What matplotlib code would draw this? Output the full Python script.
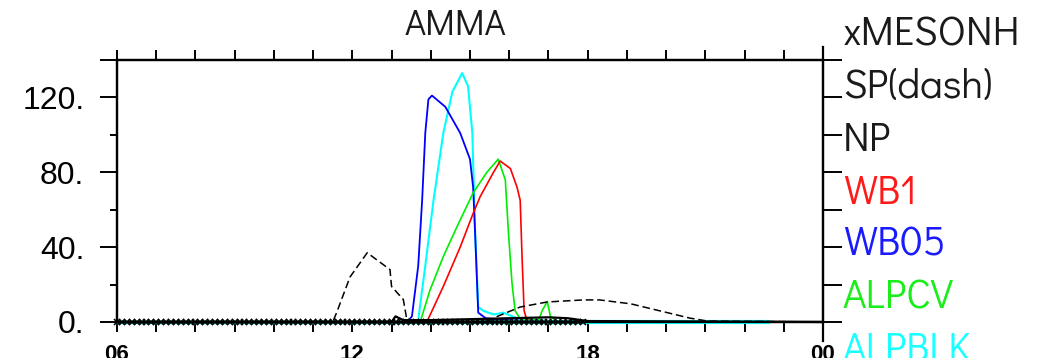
import numpy as np
import matplotlib.pyplot as plt
from matplotlib.ticker import FixedLocator

plt.rcParams['font.family'] = ['Liberation Sans', 'DejaVu Sans']
thin_font = ['Didact Gothic', 'Questrial', 'Liberation Sans']

# hours (06 -> 24) and values
t_wb05 = [6, 13.4, 13.52, 13.68, 13.78, 13.86, 13.94, 14.03, 14.37, 14.75, 15.0, 15.08, 15.13, 15.18, 15.21, 15.4, 16.0, 17.0, 24]
y_wb05 = [0, 0, 3, 30, 65, 101, 119, 121, 115, 101, 87, 72, 48, 21, 5, 2, 1, 0, 0]

t_blk = [6, 13.6, 13.68, 13.86, 14.07, 14.32, 14.55, 14.8, 14.95, 15.06, 15.13, 15.21, 15.34, 15.6, 15.85, 16.2, 17.0, 22.6]
y_blk = [0, 0, 1, 30, 65, 101, 123, 133, 126, 101, 48, 8, 6, 4, 5, 2, 0.5, 0]

t_cv = [6, 13.73, 13.98, 14.32, 14.67, 15.08, 15.43, 15.72, 15.9, 15.98, 16.07, 16.15, 16.3, 16.75, 16.84, 16.97, 17.05, 17.2, 24]
y_cv = [0, 0, 17, 35, 51, 69, 80, 87, 76, 48, 21, 6, 1, 1, 6, 11, 3, 0.5, 0]

t_wb1 = [6, 13.8, 13.9, 14.32, 14.75, 15.08, 15.26, 15.6, 15.77, 16.03, 16.2, 16.28, 16.33, 16.38, 16.45, 17.0, 24]
y_wb1 = [0, 0, 0, 19, 40, 58, 67, 80, 86, 82, 72, 65, 33, 6, 1, 0, 0]

t_sp = [6, 11.5, 11.6, 11.94, 12.38, 12.96, 13.0, 13.3, 13.4, 15.4, 15.7, 16.28, 16.97, 17.9, 18.3, 19.1, 19.85, 20.6, 21.05, 24]
y_sp = [0, 0, 5, 24, 37, 28, 19, 12, 0, 0, 3, 8, 10.7, 11.8, 11.8, 9.7, 5.9, 2.1, 0.5, 0]

t_np = [6, 13.0, 13.1, 13.3, 14.0, 15.0, 16.0, 17.0, 17.5, 18.0, 24]
y_np = [0, 0, 3, 1, 1, 1.5, 2, 2.5, 2, 0.5, 0]

t_meso = np.arange(6, 17.95, 0.125)
y_meso = np.zeros(len(t_meso))

legend_names = ['xMESONH', 'SP(dash)', 'NP', 'WB1', 'WB05', 'ALPCV', 'ALPBLK']
legend_cols = ['#1a1a1a', '#1a1a1a', '#1a1a1a', '#ff1a1a', '#1a1aff', '#1aee1a', '#1affff']

fig = plt.figure(figsize=(10.39, 3.58), dpi=100)
ax = fig.add_axes([0.1126, 0.1006, 0.6795, 0.7318])

ax.plot(t_blk, y_blk, color='#00ffff', lw=1.5, clip_on=False, zorder=3)
ax.plot(t_wb05, y_wb05, color='#0000ff', lw=1.3, clip_on=False, zorder=3)
ax.plot(t_cv, y_cv, color='#00ee00', lw=1.2, clip_on=False, zorder=3)
ax.plot(t_wb1, y_wb1, color='#ff0000', lw=1.2, clip_on=False, zorder=3)
ax.plot(t_blk[-6:], [0] * 6, color='#00ffff', lw=3, clip_on=False, zorder=3)
ax.plot(t_meso, y_meso, color='#00cccc', lw=2.5, clip_on=False, zorder=3)
ax.plot(t_sp, y_sp, color='black', lw=1.1, dashes=(5, 2.5), clip_on=False, zorder=4)
ax.plot(t_np, y_np, color='black', lw=1.6, clip_on=False, zorder=4)
ax.plot(t_meso, y_meso, 'x', color='black', ms=4.5, mew=1.1, clip_on=False, zorder=5)

ax.set_xlim(6, 24)
ax.set_ylim(0, 140)

ax.set_xticks([6, 12, 18, 24])
ax.set_xticklabels(['06', '12', '18', '00'], fontsize=16, fontweight='bold')
ax.xaxis.set_minor_locator(FixedLocator(np.arange(6, 25, 1)))
ax.tick_params(axis='x', which='both', direction='out', length=7, width=1.4,
               top=True, pad=9)

ax.set_yticks([0, 40, 80, 120, 140])
ax.set_yticklabels(['0.', '40.', '80.', '120.', ''], fontsize=23)
ax.yaxis.set_minor_locator(FixedLocator([20, 60, 100]))
ax.tick_params(axis='y', which='major', direction='out', length=12.5, width=1.4, pad=11)
ax.tick_params(axis='y', which='minor', direction='out', length=5, width=1.4)

ax2 = ax.twinx()
ax2.set_ylim(0, 140)
ax2.set_yticks(np.arange(0, 141, 20))
ax2.tick_params(axis='y', direction='out', length=14, width=1.4, labelright=False)
ax2.spines['right'].set_bounds(-10, 147)
for s in ax2.spines.values():
    s.set_linewidth(1.6)
for s in ax.spines.values():
    s.set_linewidth(1.6)

fig.text(455 / 1039, 1 - 25 / 358, 'AMMA', fontsize=26, ha='center', va='center',
         family=thin_font, color='#1a1a1a')

for i, (name, c) in enumerate(zip(legend_names, legend_cols)):
    fig.text(843 / 1039, 1 - (35 + 52.5 * i) / 358, name, fontsize=29,
             color=c, ha='left', va='center', family=thin_font)

fig.savefig('out.png', dpi=100)
